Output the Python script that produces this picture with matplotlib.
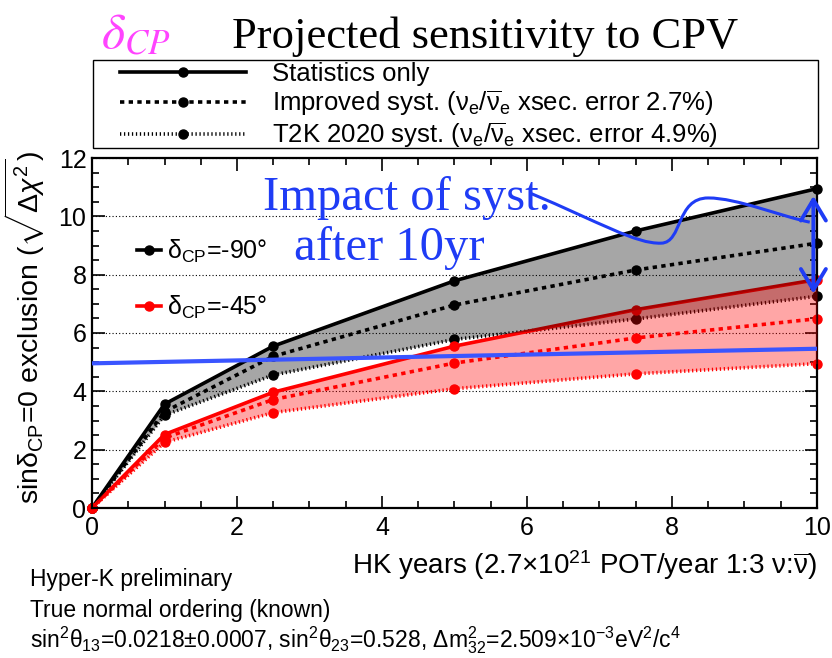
import matplotlib
matplotlib.use("Agg")
import matplotlib.pyplot as plt
from matplotlib.lines import Line2D
from matplotlib.path import Path
from matplotlib.patches import PathPatch, Rectangle

plt.rcParams["font.family"] = ["Liberation Sans", "DejaVu Sans"]
plt.rcParams["mathtext.fontset"] = "custom"
plt.rcParams["mathtext.rm"] = "Liberation Sans"
plt.rcParams["mathtext.it"] = "Liberation Sans:italic"
plt.rcParams["mathtext.bf"] = "Liberation Sans:bold"

# HK run time (years)
years = [0, 1, 2.5, 5, 7.5, 10]

# delta_CP = -90 deg
m90_stat = [0, 3.56, 5.55, 7.79, 9.5, 10.95]
m90_impr = [0, 3.3, 5.2, 6.96, 8.16, 9.08]
m90_t2k = [0, 3.18, 4.56, 5.78, 6.48, 7.26]

# delta_CP = -45 deg
m45_stat = [0, 2.52, 3.97, 5.55, 6.8, 7.83]
m45_impr = [0, 2.4, 3.72, 4.97, 5.83, 6.49]
m45_t2k = [0, 2.25, 3.27, 4.09, 4.6, 4.95]

# blue reference line (slightly tilted in the original)
ref_x = [0, 10]
ref_y = [4.96, 5.46]

series_labels = ["Statistics only",
                 r"Improved syst. ($\mathrm{\nu}_{\rm e}$/$\overline{\mathrm{\nu}}_{\rm e}$ xsec. error 2.7%)",
                 r"T2K 2020 syst. ($\mathrm{\nu}_{\rm e}$/$\overline{\mathrm{\nu}}_{\rm e}$ xsec. error 4.9%)"]
dcp_labels = [r"δ$_{\rm CP}$=-90°", r"δ$_{\rm CP}$=-45°"]

BLUE = "#1f3cf5"
LW = 2.6
styles = [dict(ls="-"),
          dict(ls=(0, (1.2, 1.2))),
          dict(ls=(0, (0.35, 0.75)))]

fig = plt.figure(figsize=(8.32, 6.58), dpi=100)
ax = fig.add_axes([92 / 832, 1 - 508 / 658, 725 / 832, 350 / 658])

for col, curves in [("black", [m90_stat, m90_impr, m90_t2k]),
                    ("#ff0000", [m45_stat, m45_impr, m45_t2k])]:
    for yv, st in zip(curves, styles):
        ax.plot(years, yv, color=col, lw=LW, marker="o", ms=6.5,
                dash_capstyle="butt", zorder=2, clip_on=False, **st)

ax.fill_between(years, m90_stat, m90_t2k, color="black", alpha=0.35, lw=0, zorder=3)
ax.fill_between(years, m45_stat, m45_t2k, color="#ff0000", alpha=0.35, lw=0, zorder=3)

ax.plot(ref_x, ref_y, color="#3a55ff", lw=3, zorder=4)

# annotation
ax.text(4.34, 10.22, "Impact of syst.", color=BLUE, family="Liberation Serif",
        fontsize=35, ha="center", va="baseline", zorder=6)
ax.text(4.1, 8.5, "after 10yr", color=BLUE, family="Liberation Serif",
        fontsize=35, ha="center", va="baseline", zorder=6)
curve_pts = [(6.04, 10.8), (7.0, 9.8), (7.5, 9.05), (7.85, 9.08),
             (8.15, 9.1), (8.05, 10.63), (8.5, 10.63),
             (8.9, 10.63), (9.5, 10.0), (9.9, 9.8)]
codes = [Path.MOVETO] + [Path.CURVE4] * 9
ax.add_patch(PathPatch(Path(curve_pts, codes), fill=False, ec=BLUE, lw=2.2, zorder=6))
ax.annotate("", xy=(9.95, 7.35), xytext=(9.95, 10.7),
            arrowprops=dict(arrowstyle="<->,head_length=0.5,head_width=0.3",
                            color=BLUE, lw=2.8, mutation_scale=30, shrinkA=0, shrinkB=0),
            zorder=6)

ax.set_xlim(0, 10)
ax.set_ylim(0, 12)
ax.set_xticks(range(0, 11, 2))
ax.set_yticks(range(0, 13, 2))
ax.set_xticks([i * 0.5 for i in range(21)], minor=True)
ax.set_yticks([i * 0.5 for i in range(25)], minor=True)
ax.tick_params(which="both", direction="in", top=True, right=True, labelsize=18, width=1.2)
ax.tick_params(which="major", length=9, pad=4)
ax.tick_params(axis="x", which="major", pad=6)
ax.tick_params(which="minor", length=5)
for s in ax.spines.values():
    s.set_linewidth(1.6)
ax.yaxis.grid(True, which="major", ls=(0, (1, 2)), color="black", lw=0.8)

ax.set_ylabel(r"sinδ$_{\rm CP}$=0 exclusion ($\sqrt{\Delta\chi^2}$)", fontsize=20.5)
ax.yaxis.set_label_coords(-0.062, 0.515)
ax.set_xlabel(r"HK years (2.7×10$^{21}$ POT/year 1:3 ν:$\overline{\mathrm{\nu}}$)",
              fontsize=20, loc="right", labelpad=6)

# series-type legend above the axes
fig.patches.append(Rectangle((93 / 832, 1 - 148 / 658), 725 / 832, 88 / 658,
                             transform=fig.transFigure, fill=False, ec="black", lw=1.0))
h1 = [Line2D([], [], color="black", lw=LW, marker="o", ms=6.5, dash_capstyle="butt", **st)
      for st in styles]
fig.legend(h1, series_labels, loc="upper left", bbox_to_anchor=(120 / 832, 1 - 62 / 658),
           fontsize=18.5, handlelength=4.9, handletextpad=1.0, labelspacing=0.1,
           borderpad=0, borderaxespad=0, frameon=False)

# delta_CP legend inside axes
h2 = [Line2D([], [], color=c, lw=LW, marker="o", ms=6.5) for c in ["black", "#ff0000"]]
ax.legend(h2, dcp_labels, loc="upper left", bbox_to_anchor=(0.062, 0.773),
          fontsize=18, handlelength=0.95, handletextpad=0.25, labelspacing=1.15,
          borderpad=0, borderaxespad=0, frameon=False)

# title
fig.text(101 / 832, 1 - 48 / 658, r"$\delta_{CP}$", color="#ff44ff", fontsize=36,
         math_fontfamily="stix", va="baseline", ha="left")
fig.text(485 / 832, 1 - 48 / 658, "Projected sensitivity to CPV", family="Liberation Serif",
         fontsize=32, va="baseline", ha="center")

# footer
fig.text(30 / 832, 1 - 586 / 658, "Hyper-K preliminary", fontsize=16.5, va="baseline")
fig.text(30 / 832, 1 - 617 / 658, "True normal ordering (known)", fontsize=16.5, va="baseline")
fig.text(30 / 832, 1 - 647 / 658,
         r"sin$^2$θ$_{13}$=0.0218±0.0007, sin$^2$θ$_{23}$=0.528, Δm$^2_{32}$=2.509×10$^{-3}$eV$^2$/c$^4$",
         fontsize=16.5, va="baseline")

fig.savefig("out.png", dpi=100)
